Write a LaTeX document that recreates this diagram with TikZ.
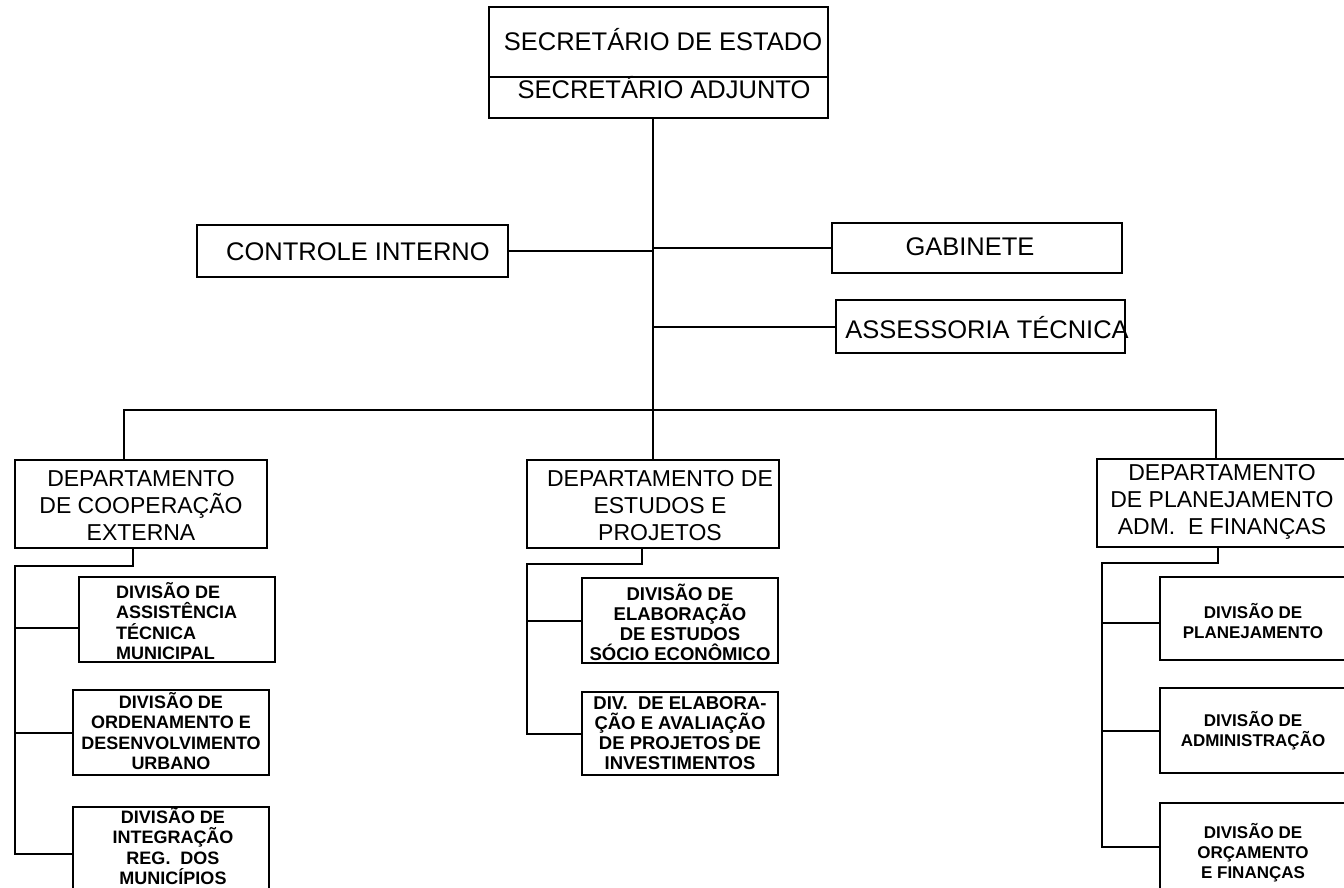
\documentclass[tikz,border=0pt]{standalone}
\usepackage{fontspec}
\setmainfont{Liberation Sans}
\usetikzlibrary{calc}
\begin{document}
\begin{tikzpicture}[x=1pt,y=-1pt,
 box/.style={draw, line width=2pt, inner sep=0pt, outer sep=0pt, anchor=north west},
 wire/.style={line width=2pt},
 big/.style={font=\fontsize{25.5}{30}\selectfont, inner sep=0pt, anchor=base},
 dept/.style={font=\fontsize{23}{27}\selectfont, align=center, inner sep=0pt},
 divl/.style={font=\bfseries\fontsize{18}{20.5}\selectfont, align=center, inner sep=0pt},
 divm/.style={font=\bfseries\fontsize{18.5}{20}\selectfont, align=center, inner sep=0pt},
 divr/.style={font=\bfseries\fontsize{17}{20}\selectfont, align=center, inner sep=0pt}]
\useasboundingbox (0,0) rectangle (1344,887);
\clip (0,0) rectangle (1344,887);
% boxes
\node[box, minimum width=339pt, minimum height=70pt] (sec) at (489,7) {};
\node[box, minimum width=339pt, minimum height=41pt] (adj) at (489,77) {};
\node[box, minimum width=311pt, minimum height=52pt] (ci) at (197,225) {};
\node[box, minimum width=290pt, minimum height=50pt] (gab) at (832,223) {};
\node[box, minimum width=289pt, minimum height=53pt] (ass) at (836,300) {};
\node[box, minimum width=252pt, minimum height=88pt] (dL) at (15,460) {};
\node[box, minimum width=252pt, minimum height=88pt] (dM) at (527,460) {};
\node[box, minimum width=263pt, minimum height=88pt] (dR) at (1097,459) {};
\node[box, minimum width=196pt, minimum height=85pt] (L1) at (79,577) {};
\node[box, minimum width=196pt, minimum height=85pt] (L2) at (73,690) {};
\node[box, minimum width=196pt, minimum height=93pt] (L3) at (73,807) {};
\node[box, minimum width=196pt, minimum height=85pt] (M1) at (582,578) {};
\node[box, minimum width=196pt, minimum height=83pt] (M2) at (582,692) {};
\node[box, minimum width=200pt, minimum height=83pt] (R1) at (1160,577) {};
\node[box, minimum width=200pt, minimum height=85pt] (R2) at (1160,688) {};
\node[box, minimum width=200pt, minimum height=87pt] (R3) at (1160,803) {};
% texts
\node[big] (secT) at (663,50) {SECRETÁRIO DE ESTADO};
\node[big] (adjT) at (664,98) {SECRETÁRIO ADJUNTO};
\node[big] (ciT) at (358,260) {CONTROLE INTERNO};
\node[big] (gabT) at (970,255) {GABINETE};
\node[big] (assT) at (987,338) {ASSESSORIA TÉCNICA};
\node[dept] (dLT) at (141,505) {DEPARTAMENTO\\DE COOPERAÇÃO\\EXTERNA};
\node[dept] (dMT) at (660,506) {DEPARTAMENTO DE\\ESTUDOS E\\PROJETOS};
\node[dept] (dRT) at (1222,502) {DEPARTAMENTO\\DE PLANEJAMENTO\\ADM.\ \ E FINANÇAS};
\node[divl, align=left, anchor=west] (L1T) at (116,621) {DIVISÃO DE\\ASSISTÊNCIA\\TÉCNICA\\MUNICIPAL};
\node[divl] (L2T) at (171,731) {DIVISÃO DE\\ORDENAMENTO E\\DESENVOLVIMENTO\\URBANO};
\node[divl] (L3T) at (173,846) {DIVISÃO DE\\INTEGRAÇÃO\\REG.\ \ DOS\\MUNICÍPIOS};
\node[divm] (M1T) at (680,622) {DIVISÃO DE\\ELABORAÇÃO\\DE ESTUDOS\\SÓCIO ECONÔMICO};
\node[divm] (M2T) at (680,733) {DIV.\ \ DE ELABORA-\\ÇÃO E AVALIAÇÃO\\DE PROJETOS DE\\INVESTIMENTOS};
\node[divr] (R1T) at (1253,621) {DIVISÃO DE\\PLANEJAMENTO};
\node[divr] (R2T) at (1253,731) {DIVISÃO DE\\ADMINISTRAÇÃO};
\node[divr] (R3T) at (1253,853) {DIVISÃO DE\\ORÇAMENTO\\E FINANÇAS};
% connectors
\coordinate (bL) at (124,410);
\coordinate (bR) at (1216,410);
\draw[wire] (adj.south -| dM.north) -- (dM.north);
\draw[wire] (ci.east) -- (ci.east -| dM.north);
\draw[wire] (gab.west) -- (gab.west -| dM.north);
\draw[wire] (ass.west) -- (ass.west -| dM.north);
\draw[wire] (dL.north -| bL) -- (bL) -- (bR) -- (dR.north -| bR);
\coordinate (lk) at (133,566);
\draw[wire] (dL.south -| lk) -- (lk) -- (lk -| dL.west) -- (L3.west -| dL.west) -- (L3.west);
\draw[wire] ($(L1.west -| dL.west)+(0,8)$) -- ($(L1.west)+(0,8)$);
\draw[wire] (L2.west -| dL.west) -- (L2.west);
\coordinate (mk) at (642,564);
\draw[wire] (dM.south -| mk) -- (mk) -- (mk -| dM.west) -- (M2.west -| dM.west) -- (M2.west);
\draw[wire] (M1.west -| dM.west) -- (M1.west);
\coordinate (rk) at (1218,563);
\coordinate (rx) at (1102,563);
\draw[wire] (dR.south -| rk) -- (rk) -- (rx) -- (R3.west -| rx) -- (R3.west);
\draw[wire] ($(R1.west -| rx)+(0,4)$) -- ($(R1.west)+(0,4)$);
\draw[wire] (R2.west -| rx) -- (R2.west);
\end{tikzpicture}
\end{document}
